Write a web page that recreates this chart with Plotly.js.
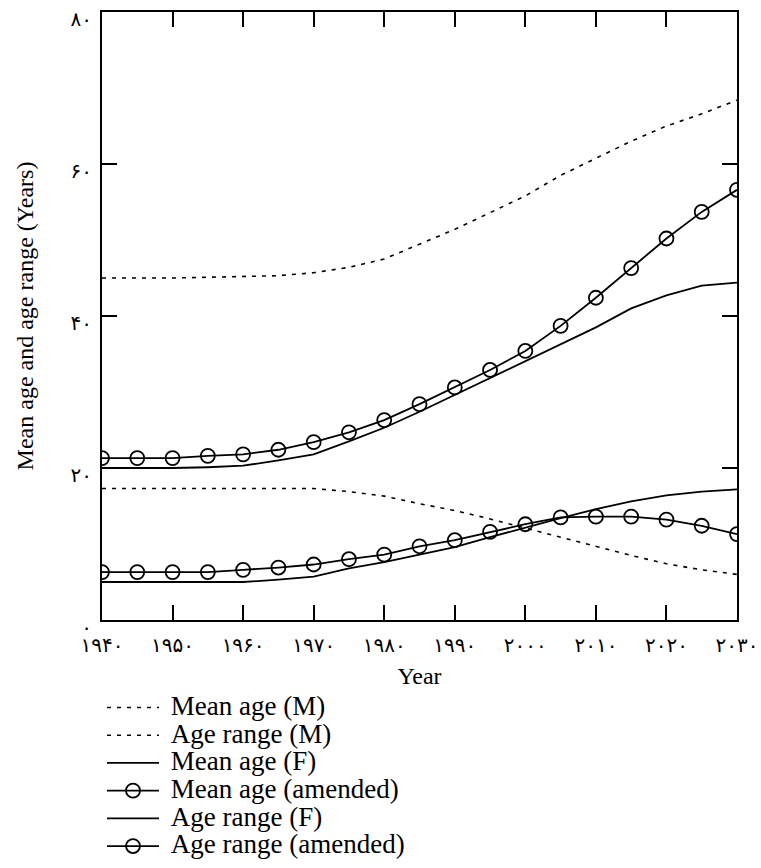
<!DOCTYPE html>
<html>
<head>
<meta charset="utf-8">
<script src="https://cdn.plot.ly/plotly-3.0.1.min.js"></script>
<style>html,body{margin:0;padding:0;background:#fff;}#chart{width:761px;height:868px;}</style>
</head>
<body>
<div id="chart"></div>
<script>
// Years (x values)
const years = [1940,1945,1950,1955,1960,1965,1970,1975,1980,1985,1990,1995,2000,2005,2010,2015,2020,2025,2030];

// Series values (years of age)
const meanAgeM       = [45.0,45.0,45.0,45.1,45.2,45.3,45.7,46.4,47.5,49.5,51.4,53.6,55.8,58.5,60.8,63.0,65.0,66.6,68.4];
const ageRangeM      = [17.3,17.3,17.3,17.3,17.3,17.3,17.3,16.9,16.3,15.3,14.4,13.3,12.1,10.8,9.6,8.5,7.4,6.6,6.0];
const meanAgeF       = [20.0,20.0,20.0,20.1,20.3,21.0,21.8,23.5,25.3,27.4,29.6,31.8,34.0,36.2,38.5,41.0,42.7,44.0,44.4];
const meanAgeAmended = [21.3,21.3,21.3,21.6,21.8,22.4,23.4,24.7,26.3,28.4,30.6,32.9,35.4,38.7,42.4,46.3,50.2,53.7,56.6];
const ageRangeF      = [5.0,5.0,5.0,5.0,5.0,5.3,5.7,6.8,7.6,8.6,9.6,10.9,12.2,13.4,14.6,15.6,16.4,16.9,17.2];
const ageRangeAmended= [6.3,6.3,6.3,6.3,6.6,6.9,7.3,8.0,8.6,9.7,10.5,11.6,12.6,13.5,13.6,13.6,13.2,12.4,11.3];

// Series names
const seriesNames = ['Mean age (M)','Age range (M)','Mean age (F)','Mean age (amended)','Age range (F)','Age range (amended)'];

// Tick values and labels (Extended Arabic-Indic digits)
const xTickVals = [1940,1950,1960,1970,1980,1990,2000,2010,2020,2030];
const xTickText = ['۱۹۴۰','۱۹۵۰','۱۹۶۰','۱۹۷۰','۱۹۸۰','۱۹۹۰','۲۰۰۰','۲۰۱۰','۲۰۲۰','۲۰۳۰'];
const yTickVals = [0,20,40,60,80];
const yTickText = ['۰','۲۰','۴۰','۶۰','۸۰'];

const serif = '"Liberation Serif", "Times New Roman", Times, serif';
const legendName = n => '<span style="font-size:27px">&nbsp;' + n + '</span>';

const dotted = {color:'#000', width:1.6, dash:'4px,6px'};
const solid = {color:'#000', width:1.8};
const circ = {symbol:'circle-open', size:14, color:'#000', line:{color:'#000', width:1.8}};

const seriesValues = [meanAgeM, ageRangeM, meanAgeF, meanAgeAmended, ageRangeF, ageRangeAmended];
const styles = [
  {mode:'lines', line:dotted},
  {mode:'lines', line:dotted},
  {mode:'lines', line:solid},
  {mode:'lines+markers', line:solid, marker:circ},
  {mode:'lines', line:solid},
  {mode:'lines+markers', line:solid, marker:circ}
];

const traces = seriesValues.map((vals, i) => Object.assign({
  type:'scatter',
  x: years,
  y: vals,
  name: legendName(seriesNames[i])
}, styles[i]));

const axisCommon = {
  showline:true, linecolor:'#000', linewidth:2,
  mirror:'allticks', ticks:'inside', ticklen:15, tickwidth:2, tickcolor:'#000',
  showgrid:false, zeroline:false, automargin:false, ticklabeloverflow:'allow',
  tickfont:{family:'"DejaVu Sans", sans-serif', size:20, color:'#000'}
};

const layout = {
  width:761, height:868,
  margin:{l:102, r:24, t:12, b:248, autoexpand:false},
  paper_bgcolor:'#fff', plot_bgcolor:'#fff',
  font:{family:serif, color:'#000'},
  showlegend:true,
  xaxis: Object.assign({}, axisCommon, {
    range:[1940,2030], tickmode:'array', tickvals:xTickVals, ticktext:xTickText,
    ticklabelstandoff:6,
    title:{text:'Year', font:{family:serif, size:24, color:'#000'}, standoff:11}
  }),
  yaxis: Object.assign({}, axisCommon, {
    range:[0,80], tickmode:'array', tickvals:yTickVals, ticktext:yTickText,
    ticklabelstandoff:4, ticklabelshift:7,
    title:{text:'Mean age and age range (Years)', font:{family:serif, size:24, color:'#000'}, standoff:30}
  }),
  legend:{
    x:0, xanchor:'left', y:-0.113, yanchor:'top',
    font:{family:serif, size:19, color:'#000'},
    bgcolor:'rgba(0,0,0,0)', borderwidth:0,
    itemwidth:52, tracegroupgap:0
  }
};

Plotly.newPlot('chart', traces, layout, {displayModeBar:false, staticPlot:true});
</script>
</body>
</html>
